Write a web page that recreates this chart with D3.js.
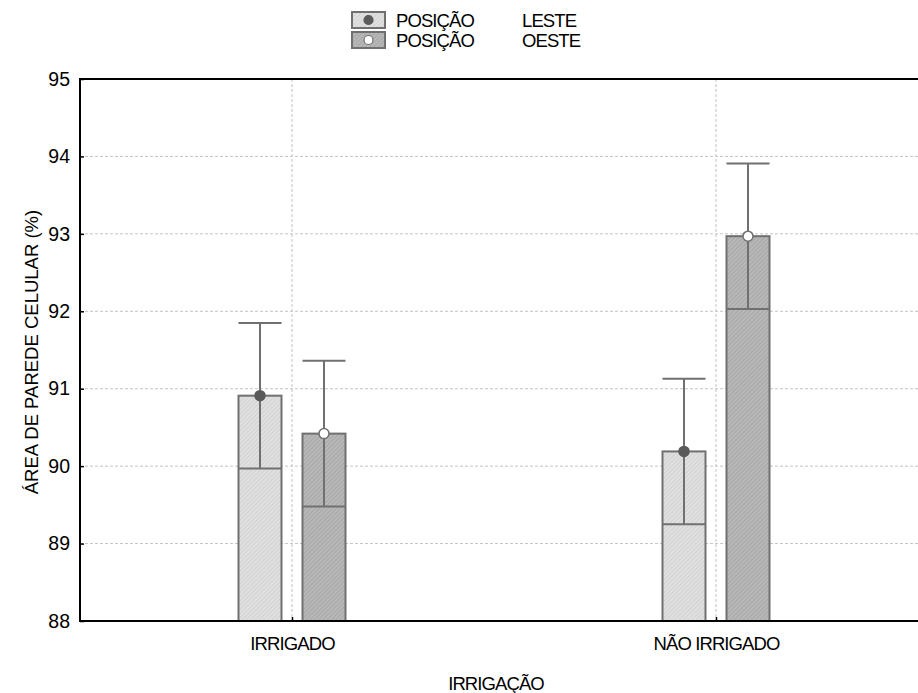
<!DOCTYPE html>
<html>
<head>
<meta charset="utf-8">
<script src="https://cdn.jsdelivr.net/npm/d3@7"></script>
<style>
  body { margin: 0; background: #fff; }
  text { font-family: "Liberation Sans", Arial, sans-serif; fill: #000; }
</style>
</head>
<body>
<div id="chart"></div>
<script>
// data
var categories = ["IRRIGADO", "NÃO IRRIGADO"];
var series = ["LESTE", "OESTE"];
var meanLeste = [90.91, 90.19];
var meanOeste = [90.42, 92.97];
var errLeste = [0.94, 0.94];
var errOeste = [0.94, 0.94];
var yTicks = [88, 89, 90, 91, 92, 93, 94, 95];

var width = 918, height = 693;
var margin = {top: 79, right: -10, bottom: 72, left: 80};
var fs = 18.5, ls = -0.9;

var svg = d3.select("#chart").append("svg")
    .attr("width", width)
    .attr("height", height);

var defs = svg.append("defs");
function hatch(id, base, line) {
  var p = defs.append("pattern")
      .attr("id", id)
      .attr("patternUnits", "userSpaceOnUse")
      .attr("width", 3).attr("height", 3)
      .attr("patternTransform", "rotate(45)");
  p.append("rect").attr("width", 3).attr("height", 3).attr("fill", base);
  p.append("line").attr("x1", 0).attr("y1", 0).attr("x2", 0).attr("y2", 3)
      .attr("stroke", line).attr("stroke-width", 1.2);
}
hatch("hLeste", "#e0e0e0", "#c9c9c9");
hatch("hOeste", "#b8b8b8", "#9c9c9c");

var x_scale = d3.scalePoint()
    .domain(categories)
    .range([margin.left, width - margin.right])
    .padding(0.5);
var y_scale = d3.scaleLinear()
    .domain([88, 95])
    .range([height - margin.bottom, margin.top]);

var x0 = margin.left, x1 = width - margin.right + 20;
var yb = y_scale(88), yt = y_scale(95);

// grid
svg.append("g").selectAll("line")
    .data(yTicks.slice(1, -1))
    .join("line")
    .attr("x1", x0).attr("x2", x1)
    .attr("y1", function(d) { return y_scale(d); })
    .attr("y2", function(d) { return y_scale(d); })
    .attr("stroke", "#c4c4c4").attr("stroke-dasharray", "3,2");
svg.append("g").selectAll("line")
    .data(categories)
    .join("line")
    .attr("x1", function(d) { return x_scale(d); })
    .attr("x2", function(d) { return x_scale(d); })
    .attr("y1", yt).attr("y2", yb)
    .attr("stroke", "#c4c4c4").attr("stroke-dasharray", "3,2");

// bars
var barW = 43, off = 32;
var rows = [];
categories.forEach(function(c, i) {
  rows.push({cat: c, s: 0, mean: meanLeste[i], err: errLeste[i]});
  rows.push({cat: c, s: 1, mean: meanOeste[i], err: errOeste[i]});
});
var stroke = "#707070";

var g = svg.append("g");
rows.forEach(function(d) {
  var cx = x_scale(d.cat) + (d.s === 0 ? -off : off);
  var lo = d.mean - d.err, hi = d.mean + d.err;
  g.append("rect")
      .attr("x", cx - barW / 2).attr("width", barW)
      .attr("y", y_scale(d.mean)).attr("height", yb - y_scale(d.mean))
      .attr("fill", d.s === 0 ? "url(#hLeste)" : "url(#hOeste)")
      .attr("stroke", stroke).attr("stroke-width", 2);
  g.append("line")
      .attr("x1", cx).attr("x2", cx)
      .attr("y1", y_scale(lo)).attr("y2", y_scale(hi))
      .attr("stroke", stroke).attr("stroke-width", 2);
  g.append("line")
      .attr("x1", cx - barW / 2).attr("x2", cx + barW / 2)
      .attr("y1", y_scale(lo)).attr("y2", y_scale(lo))
      .attr("stroke", stroke).attr("stroke-width", 2);
  g.append("line")
      .attr("x1", cx - barW / 2).attr("x2", cx + barW / 2)
      .attr("y1", y_scale(hi)).attr("y2", y_scale(hi))
      .attr("stroke", stroke).attr("stroke-width", 2);
  g.append("circle")
      .attr("cx", cx).attr("cy", y_scale(d.mean)).attr("r", 5)
      .attr("fill", d.s === 0 ? "#5a5a5a" : "#fff")
      .attr("stroke", d.s === 0 ? "#5a5a5a" : stroke)
      .attr("stroke-width", 1.5);
});

// axes
var yAxis = svg.append("g")
    .attr("transform", "translate(" + x0 + ",0)")
    .call(d3.axisLeft(y_scale).tickValues(yTicks).tickSize(-4).tickPadding(10)
      .tickFormat(d3.format("d")));
yAxis.select(".domain").remove();
yAxis.selectAll(".tick line").attr("stroke", "#000").attr("stroke-width", 1.5);
yAxis.selectAll("text").attr("font-size", 19.5);

var xAxis = svg.append("g")
    .attr("transform", "translate(0," + yb + ")")
    .call(d3.axisBottom(x_scale).tickSize(-4).tickPadding(16));
xAxis.select(".domain").remove();
xAxis.selectAll(".tick line").attr("stroke", "#000").attr("stroke-width", 1.5);
xAxis.selectAll("text").attr("font-size", fs).attr("letter-spacing", ls);

// frame
svg.append("line").attr("x1", x0).attr("x2", x0).attr("y1", yt - 1).attr("y2", yb + 1)
    .attr("stroke", "#000").attr("stroke-width", 2);
svg.append("line").attr("x1", x0).attr("x2", x1).attr("y1", yb).attr("y2", yb)
    .attr("stroke", "#000").attr("stroke-width", 2);
svg.append("line").attr("x1", x0).attr("x2", x1).attr("y1", yt).attr("y2", yt)
    .attr("stroke", "#000").attr("stroke-width", 2);

// titles
svg.append("text")
    .attr("x", (x0 + width) / 2 - 3).attr("y", 690)
    .attr("text-anchor", "middle").attr("font-size", fs).attr("letter-spacing", ls)
    .text("IRRIGAÇÃO");
svg.append("text")
    .attr("transform", "translate(38," + ((yt + yb) / 2 + 2) + ") rotate(-90)")
    .attr("text-anchor", "middle").attr("font-size", fs)
    .text("ÁREA DE PAREDE CELULAR (%)");

// legend
var leg = svg.append("g");
series.forEach(function(s, i) {
  var y = 12 + i * 20;
  leg.append("rect")
      .attr("x", 352).attr("y", y).attr("width", 33).attr("height", 16)
      .attr("fill", i === 0 ? "url(#hLeste)" : "url(#hOeste)")
      .attr("stroke", stroke).attr("stroke-width", 2);
  leg.append("circle")
      .attr("cx", 368.5).attr("cy", y + 8).attr("r", 4.5)
      .attr("fill", i === 0 ? "#5a5a5a" : "#fff")
      .attr("stroke", i === 0 ? "#5a5a5a" : stroke).attr("stroke-width", 1.2);
  leg.append("text").attr("x", 396).attr("y", y + 15)
      .attr("font-size", fs).attr("letter-spacing", ls).text("POSIÇÃO");
  leg.append("text").attr("x", 522).attr("y", y + 15)
      .attr("font-size", fs).attr("letter-spacing", ls).text(s);
});
</script>
</body>
</html>
